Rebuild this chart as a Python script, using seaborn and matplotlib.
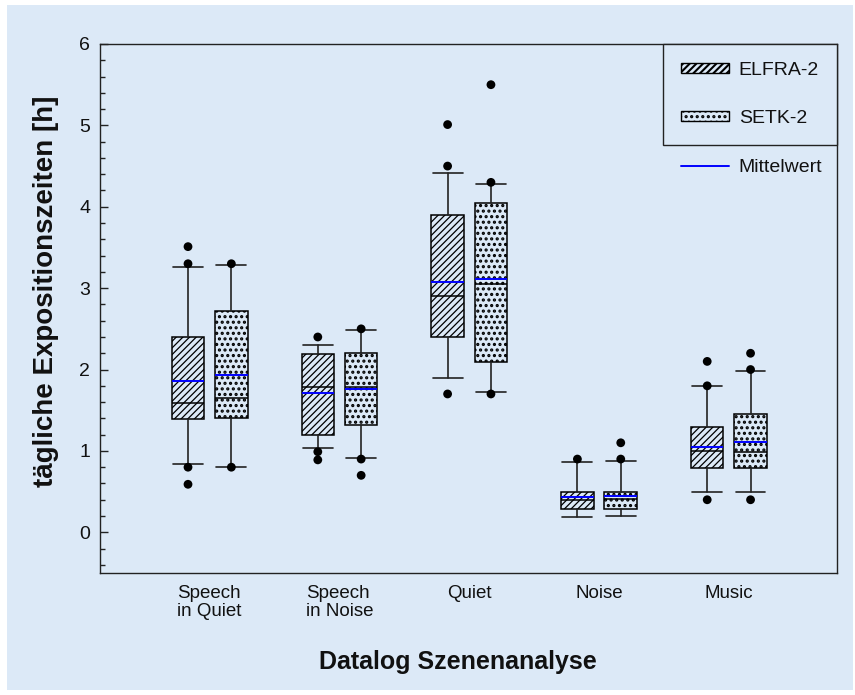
import matplotlib
matplotlib.use("Agg")
import matplotlib.pyplot as plt
import seaborn as sns
import pandas as pd
from matplotlib.patches import Rectangle, Patch
from matplotlib.lines import Line2D
from matplotlib.ticker import MultipleLocator

# ---------------- data ----------------
categories = ["Speech\nin Quiet", "Speech\nin Noise", "Quiet", "Noise", "Music"]
groups = ["ELFRA-2", "SETK-2"]

elfra_whislo = [0.84, 1.03, 1.89, 0.19, 0.50]
elfra_q1 = [1.39, 1.19, 2.40, 0.29, 0.79]
elfra_med = [1.59, 1.79, 2.90, 0.40, 1.00]
elfra_q3 = [2.40, 2.19, 3.90, 0.50, 1.30]
elfra_whishi = [3.26, 2.30, 4.42, 0.86, 1.80]
elfra_mean = [1.86, 1.71, 3.07, 0.43, 1.05]
elfra_outliers = [[3.51, 3.30, 0.80, 0.59], [2.40, 0.99, 0.89], [5.01, 4.50, 1.70], [0.90], [2.10, 1.80, 0.40]]

setk_whislo = [0.80, 0.91, 1.72, 0.20, 0.50]
setk_q1 = [1.41, 1.32, 2.09, 0.29, 0.79]
setk_med = [1.65, 1.79, 3.05, 0.41, 0.99]
setk_q3 = [2.72, 2.20, 4.05, 0.50, 1.45]
setk_whishi = [3.28, 2.48, 4.28, 0.88, 1.98]
setk_mean = [1.93, 1.76, 3.11, 0.45, 1.11]
setk_outliers = [[3.30, 0.80], [2.50, 0.90, 0.70], [5.50, 4.30, 1.70], [1.10, 0.90], [2.20, 2.00, 0.40]]

y_ticks = [0, 1, 2, 3, 4, 5, 6]
x_label = "Datalog Szenenanalyse"
y_label = "tägliche Expositionszeiten [h]"
mean_label = "Mittelwert"

# ---------------- style ----------------
BG = "#dce9f7"
sns.set_theme(style="ticks")
plt.rcParams["font.family"] = ["Liberation Sans", "DejaVu Sans"]
plt.rcParams["hatch.color"] = "black"
TXT = "#111111"

HATCH = {"ELFRA-2": ("/////", 0.9), "SETK-2": ("...", 1.5)}


def set_hlw(patch, lw):
    if hasattr(patch, "set_hatch_linewidth"):
        patch.set_hatch_linewidth(lw)


fig = plt.figure(figsize=(8.55, 6.95), dpi=100)
fig.patch.set_facecolor("white")
fig.add_artist(Rectangle((7 / 855, 5 / 695), (853 - 7) / 855, (690 - 5) / 695,
                         transform=fig.transFigure, facecolor=BG, edgecolor="none", zorder=-10))

ax = fig.add_axes([100 / 855, (695 - 573) / 695, 737 / 855, 529 / 695])
ax.set_facecolor(BG)

offset = 0.167
bw = 0.251

series = [
    ("ELFRA-2", -offset, elfra_whislo, elfra_q1, elfra_med, elfra_q3, elfra_whishi, elfra_mean, elfra_outliers),
    ("SETK-2", offset, setk_whislo, setk_q1, setk_med, setk_q3, setk_whishi, setk_mean, setk_outliers),
]

fl_x, fl_y, fl_g = [], [], []
for name, off, wlo, q1, med, q3, whi, mean, outl in series:
    hatch, hlw = HATCH[name]
    plt.rcParams["hatch.linewidth"] = hlw
    stats = []
    for i in range(len(categories)):
        stats.append(dict(med=med[i], q1=q1[i], q3=q3[i], whislo=wlo[i], whishi=whi[i],
                          mean=mean[i], fliers=[], label=categories[i]))
        for v in outl[i]:
            fl_x.append(i + off)
            fl_y.append(v)
            fl_g.append(name)
    pos = [i + off for i in range(len(categories))]
    res = ax.bxp(stats, positions=pos, widths=bw, capwidths=0.23, patch_artist=True,
                 showmeans=True, meanline=True, showfliers=False, manage_ticks=False,
                 boxprops=dict(facecolor=BG, edgecolor="black", linewidth=1.1, hatch=hatch),
                 medianprops=dict(color="black", linewidth=1.1),
                 meanprops=dict(color="#0000ff", linewidth=1.4, linestyle="-"),
                 whiskerprops=dict(color="#222222", linewidth=1.2),
                 capprops=dict(color="#222222", linewidth=1.2))
    for b in res["boxes"]:
        set_hlw(b, hlw)

flier_df = pd.DataFrame({"x": fl_x, "y": fl_y, "group": fl_g})
sns.scatterplot(data=flier_df, x="x", y="y", color="black", s=40, edgecolor="none",
                ax=ax, zorder=5, legend=False)

ax.set_xlim(-0.845, 4.833)
ax.set_ylim(-0.5, 6)
ax.set_xticks(range(len(categories)))
ax.set_xticklabels(categories, multialignment="left", linespacing=1.05, fontsize=13.5, color=TXT)
ax.set_yticks(y_ticks)
ax.set_yticklabels([str(t) for t in y_ticks], fontsize=14, color=TXT)
ax.yaxis.set_minor_locator(MultipleLocator(0.2))
ax.tick_params(axis="y", which="major", direction="in", length=5.5, width=1.0, pad=7, color="#222222", right=False)
ax.tick_params(axis="y", which="minor", direction="in", length=3.5, width=1.0, color="#222222", right=False)
ax.tick_params(axis="x", which="both", length=0, pad=9)
for sp in ax.spines.values():
    sp.set_visible(True)
    sp.set_color("#222222")
    sp.set_linewidth(1.0)
ax.grid(False)

ax.set_xlabel(x_label, fontsize=18, fontweight="bold", color=TXT)
ax.xaxis.set_label_coords((458 - 100) / 737, (573 - 650) / 529)
ax.set_ylabel(y_label, fontsize=20, fontweight="bold", color=TXT)
ax.yaxis.set_label_coords((59 - 100) / 737, (573 - 291) / 529)

plt.rcParams["hatch.linewidth"] = HATCH["ELFRA-2"][1]
h1 = Patch(facecolor=BG, edgecolor="black", hatch=HATCH["ELFRA-2"][0], linewidth=1.0, label=groups[0])
set_hlw(h1, HATCH["ELFRA-2"][1])
plt.rcParams["hatch.linewidth"] = HATCH["SETK-2"][1]
h2 = Patch(facecolor=BG, edgecolor="black", hatch=HATCH["SETK-2"][0], linewidth=1.0, label=groups[1])
set_hlw(h2, HATCH["SETK-2"][1])
common = dict(fontsize=14, handlelength=2.47, handleheight=0.4, handletextpad=0.5,
              labelspacing=1.6, borderpad=0.92, borderaxespad=0)
leg1 = ax.legend(handles=[h1, h2], loc="upper right", bbox_to_anchor=(1, 1), frameon=True,
                 fancybox=False, edgecolor="#222222", facecolor=BG, framealpha=1, **common)
leg1.get_frame().set_linewidth(1.0)
for t in leg1.get_texts():
    t.set_color(TXT)
ax.add_artist(leg1)
l3 = Line2D([], [], color="#0000ff", linewidth=1.4, label=mean_label)
leg2 = ax.legend(handles=[l3], loc="upper left", bbox_to_anchor=(0.764, 0.816), frameon=False, **common)
for t in leg2.get_texts():
    t.set_color(TXT)

fig.savefig("out.png", dpi=100, facecolor="white")
